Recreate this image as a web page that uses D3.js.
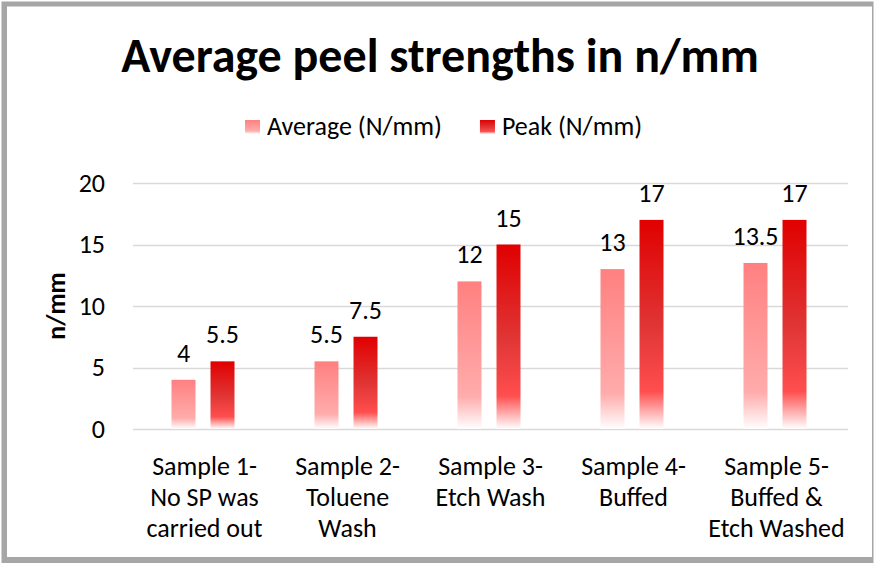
<!DOCTYPE html>
<html lang="en">
<head>
<meta charset="utf-8">
<title>Average peel strengths</title>
<script src="https://d3js.org/d3.v7.min.js"></script>
<style>
  body { margin: 0; background: #fff; }
  text { font-family: Carlito, Calibri, "Open Sans", sans-serif; fill: #000; }
</style>
</head>
<body>
<script>
/////////////////// Data //////////////
var categories = [
  ["Sample 1-", "No SP was", "carried out"],
  ["Sample 2-", "Toluene", "Wash"],
  ["Sample 3-", "Etch Wash"],
  ["Sample 4-", "Buffed"],
  ["Sample 5-", "Buffed &", "Etch Washed"]
];
var series = ["Average (N/mm)", "Peak (N/mm)"];
var averageValues = [4, 5.5, 12, 13, 13.5];
var peakValues = [5.5, 7.5, 15, 17, 17];
var yTicks = [0, 5, 10, 15, 20];

var width = 874, height = 563;
var plot = {left: 133, right: 848, top: 183, bottom: 429};
var fontSize = "26px";

var svg = d3.select("body").append("svg")
    .attr("width", width)
    .attr("height", height);

//============================== Frame
svg.append("rect")
    .attr("x", 1.5).attr("y", 1.5)
    .attr("width", 872).attr("height", 561.5)
    .attr("fill", "#a6a6a6");
svg.append("rect")
    .attr("x", 7).attr("y", 6.5)
    .attr("width", 865).attr("height", 550.5)
    .attr("fill", "#fff");

//============================== Gradients
var defs = svg.append("defs");
var gradStops = {
  avg: [["0%", "#ff8080"], ["78%", "#ffacac"], ["100%", "#ffffff"]],
  peak: [["0%", "#e00000"], ["50%", "#e03434"], ["82%", "#ff4e4e"], ["100%", "#ffffff"]]
};
Object.keys(gradStops).forEach(function(k) {
  var g = defs.append("linearGradient")
      .attr("id", "grad-" + k)
      .attr("x1", 0).attr("y1", 0).attr("x2", 0).attr("y2", 1);
  gradStops[k].forEach(function(s) {
    g.append("stop").attr("offset", s[0]).attr("stop-color", s[1]);
  });
});
var fills = ["url(#grad-avg)", "url(#grad-peak)"];

//============================== Scales
var catNames = categories.map(function(c) { return c.join(" "); });
var x0 = d3.scaleBand().domain(catNames).range([plot.left, plot.right]);
var x1 = d3.scaleBand().domain(series).range([0, 63]).paddingInner(0.385);
var y = d3.scaleLinear().domain([0, 20]).range([plot.bottom, plot.top]);
var groupOffset = (x0.bandwidth() - 63) / 2 - 1.5;

//============================== Title
svg.append("text")
    .attr("x", 440).attr("y", 72)
    .attr("text-anchor", "middle")
    .style("font-size", "48px")
    .style("font-weight", "bold")
    .text("Average peel strengths in n/mm");

//============================== Grid + y axis
svg.append("g").selectAll("line")
    .data(yTicks)
    .enter().append("line")
    .attr("x1", plot.left).attr("x2", plot.right)
    .attr("y1", function(d) { return Math.round(y(d)) + 0.5; })
    .attr("y2", function(d) { return Math.round(y(d)) + 0.5; })
    .attr("stroke", "#d9d9d9")
    .attr("stroke-width", 1.5);

svg.append("g").selectAll("text")
    .data(yTicks)
    .enter().append("text")
    .attr("x", 105)
    .attr("y", function(d) { return y(d); })
    .attr("dy", "0.33em")
    .attr("text-anchor", "end")
    .style("font-size", fontSize)
    .text(function(d) { return d; });

svg.append("text")
    .attr("transform", "translate(65," + ((plot.top + plot.bottom) / 2) + ") rotate(-90)")
    .attr("text-anchor", "middle")
    .style("font-size", fontSize)
    .style("font-weight", "bold")
    .text("n/mm");

//============================== Bars
var rows = categories.map(function(c, i) {
  return {cat: catNames[i], values: [averageValues[i], peakValues[i]]};
});

var groups = svg.append("g").selectAll("g")
    .data(rows)
    .enter().append("g")
    .attr("transform", function(d) { return "translate(" + (x0(d.cat) + groupOffset) + ",0)"; });

groups.selectAll("rect")
    .data(function(d) { return d.values.map(function(v, j) { return {s: series[j], v: v, j: j}; }); })
    .enter().append("rect")
    .attr("x", function(d) { return x1(d.s); })
    .attr("y", function(d) { return y(d.v); })
    .attr("width", x1.bandwidth())
    .attr("height", function(d) { return y(0) - y(d.v); })
    .attr("fill", function(d) { return fills[d.j]; });

groups.selectAll("text")
    .data(function(d) { return d.values.map(function(v, j) { return {s: series[j], v: v}; }); })
    .enter().append("text")
    .attr("x", function(d) { return x1(d.s) + x1.bandwidth() / 2; })
    .attr("y", function(d) { return y(d.v) - 18; })
    .attr("text-anchor", "middle")
    .style("font-size", fontSize)
    .text(function(d) { return d.v; });

//============================== Category labels
var catLabels = svg.append("g").selectAll("text")
    .data(categories)
    .enter().append("text")
    .attr("x", function(d, i) { return x0(catNames[i]) + x0.bandwidth() / 2; })
    .attr("y", 475)
    .attr("text-anchor", "middle")
    .style("font-size", fontSize);
catLabels.selectAll("tspan")
    .data(function(d) { return d; })
    .enter().append("tspan")
    .attr("x", function() { return d3.select(this.parentNode).attr("x"); })
    .attr("dy", function(d, i) { return i === 0 ? 0 : 31; })
    .text(function(d) { return d; });

//============================== Legend
var legend = svg.append("g");
var lx = 245;
series.forEach(function(s, i) {
  legend.append("rect")
      .attr("x", lx).attr("y", 120)
      .attr("width", 15).attr("height", 14)
      .attr("fill", fills[i]);
  var t = legend.append("text")
      .attr("x", lx + 22).attr("y", 135)
      .style("font-size", fontSize)
      .text(s);
  lx += 22 + t.node().getComputedTextLength() + 38;
});
</script>
</body>
</html>
